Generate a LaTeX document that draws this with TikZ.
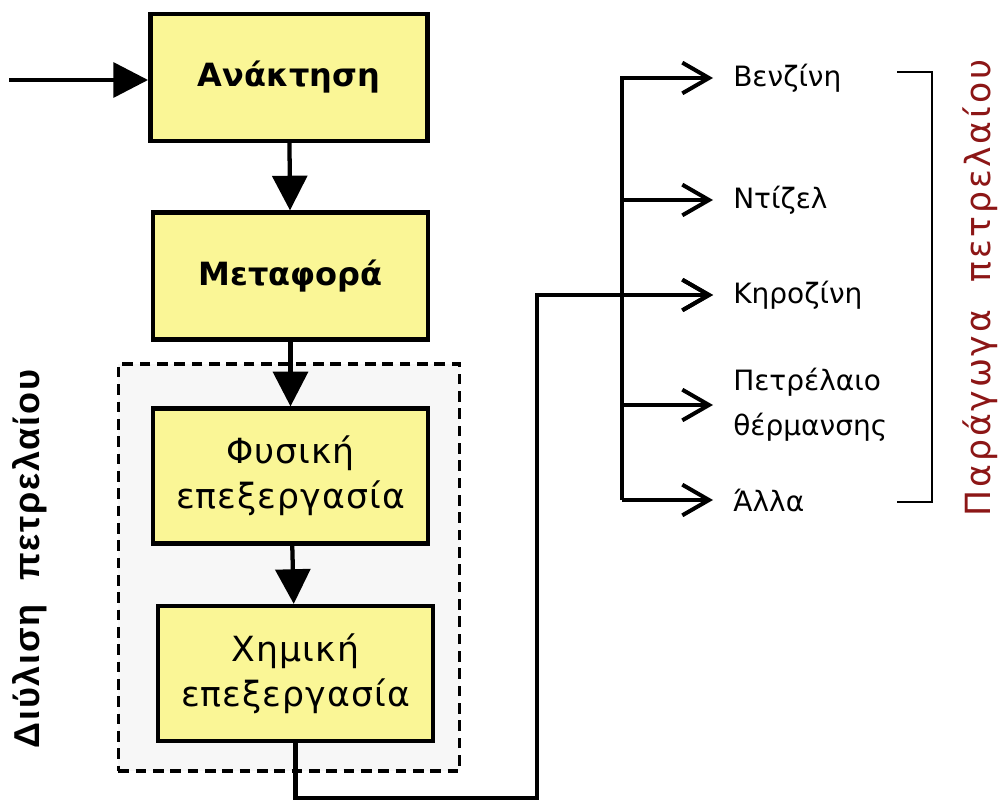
\documentclass[tikz,border=0pt]{standalone}
\usepackage{fontspec}
\setmainfont{DejaVu Sans}
\newfontfamily\arialfont{Liberation Sans}
\usetikzlibrary{arrows.meta,positioning}
\definecolor{boxyellow}{RGB}{250,246,150}
\definecolor{darkred}{RGB}{140,22,22}
\begin{document}
\begin{tikzpicture}[x=0.75pt, y=-0.75pt,
    stage/.style={draw, line width=3.4pt, fill=boxyellow, minimum width=206pt, minimum height=95pt, align=center, inner sep=0pt},
    boldstage/.style={stage, font=\bfseries\fontsize{24}{30}\selectfont},
    procstage/.style={stage, minimum height=101pt, font=\fontsize{26}{34}\selectfont\addfontfeature{LetterSpace=3}},
    flow/.style={line width=3.2pt, -{Triangle[length=26pt,width=26pt]}},
    branch/.style={line width=3.2pt, shorten >=15pt, -{Straight Barb[length=20pt,width=23pt,line width=3pt]}},
    product/.style={anchor=west, inner sep=0pt, align=left, font=\fontsize{21}{34}\selectfont}]
    \useasboundingbox (0,0) rectangle (1003,802);
    \node[draw, dashed, dash pattern=on 8pt off 5pt, line width=2.6pt, fill=black!3, minimum width=256pt, minimum height=305pt] (refinery) at (289,567.5) {};
    \node[boldstage, minimum width=208pt] (ana) at (289,77.5) {Ανάκτηση};
    \node[boldstage] (meta) at (290.5,276) {Μεταφορά};
    \node[procstage] (fys) at (290.5,476) {Φυσική\\επεξεργασία};
    \node[procstage] (xim) at (295.5,673.5) {Χημική\\επεξεργασία};
    \node[rotate=90, font=\arialfont\bfseries\fontsize{27}{27}\selectfont\addfontfeature{LetterSpace=5}] (dilabel) at (30,559) {Διύλιση\ \ πετρελαίου};
    \node[product] (benz) at (733,78) {Βενζίνη};
    \node[product] (diz) at (733,200) {Ντίζελ};
    \node[product] (kero) at (733,295) {Κηροζίνη};
    \node[product] (therm) at (733,405) {Πετρέλαιο\\θέρμανσης};
    \node[product] (other) at (733,500) {Άλλα};
    \node[rotate=90, text=darkred, font=\fontsize{26}{26}\selectfont\addfontfeature{LetterSpace=8}] (prodlabel) at (980,288) {Παράγωγα\ \ πετρελαίου};
    \coordinate (in) at (9,80);
    \coordinate (turn) at (537,798);
    \coordinate (trunk) at (622,0);
    \draw[flow] (in) -- (in -| ana.west);
    \draw[flow] (ana) -- (meta);
    \draw[flow] (meta) -- (fys);
    \draw[flow] (fys) -- (xim);
    \draw[branch] (xim.south) |- (turn) |- (kero);
    \draw[branch] (trunk |- other) -- (trunk |- benz) -- (benz);
    \foreach \p in {diz,kero,therm,other}
        \draw[branch] (trunk |- \p) -- (\p);
    \draw[line width=2pt] (897,72) -- (932,72) -- (932,502) -- (897,502);
\end{tikzpicture}
\end{document}
